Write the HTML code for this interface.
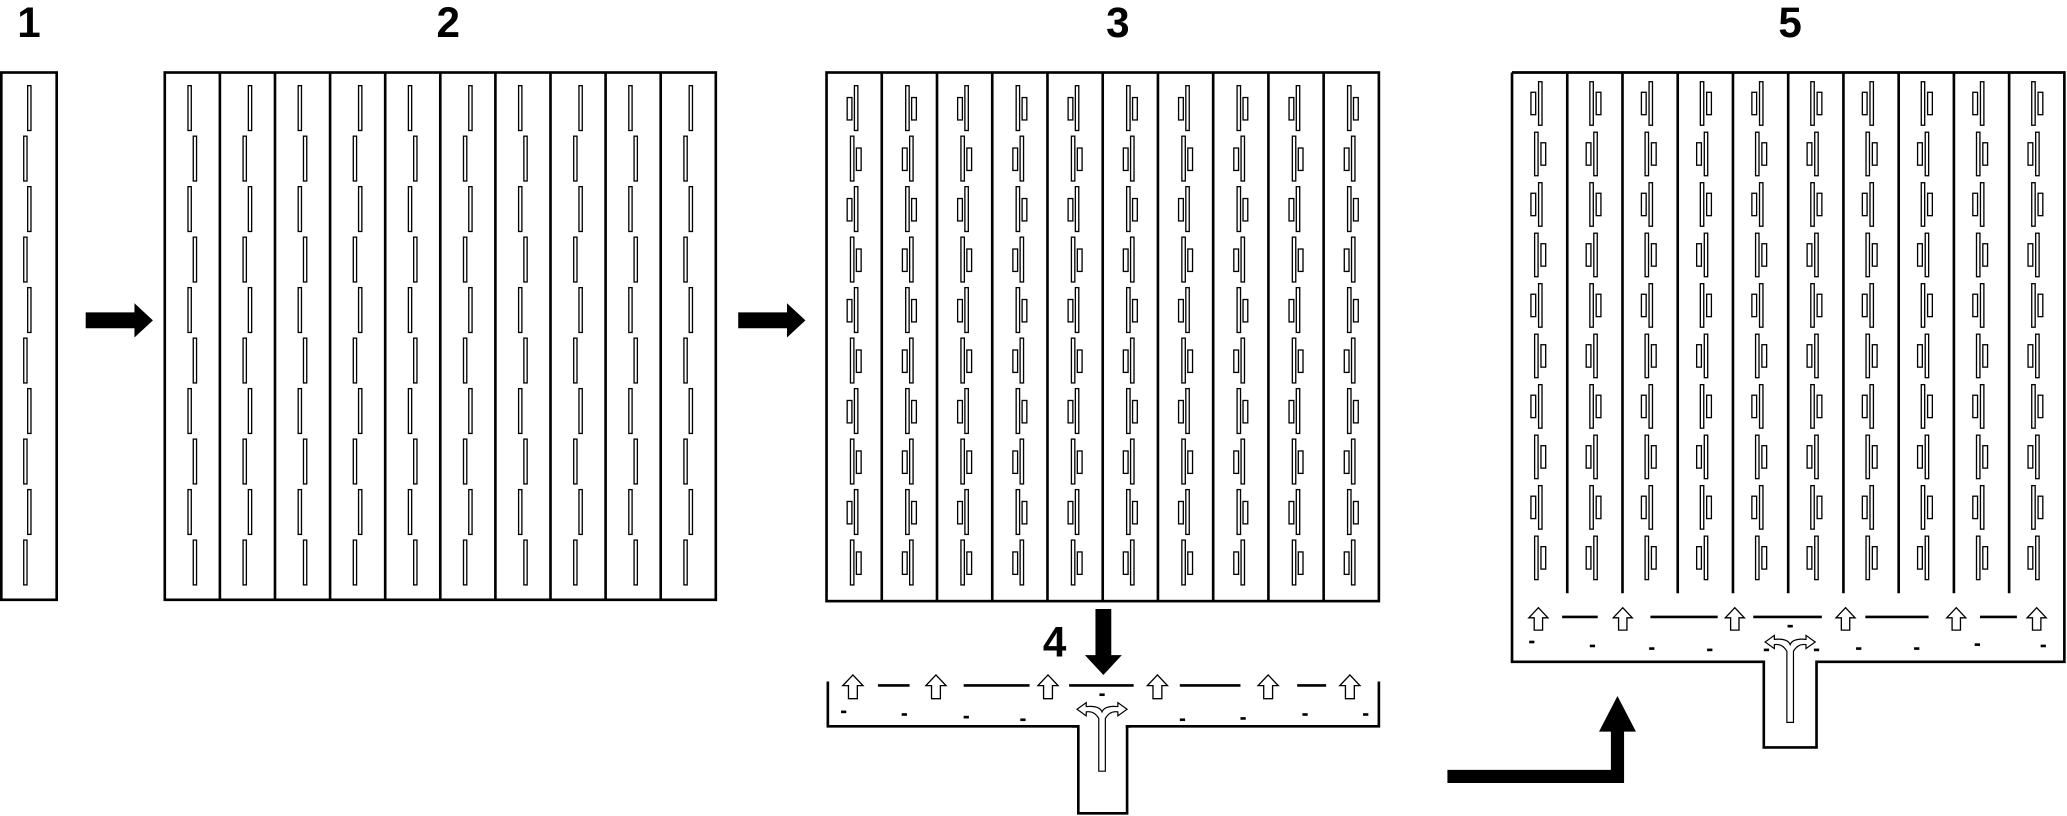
<!DOCTYPE html>
<html><head><meta charset="utf-8">
<style>
html,body{margin:0;padding:0;background:#fff;width:2067px;height:816px;overflow:hidden}
svg{display:block}
text{font-family:"Liberation Sans",Arial,sans-serif;font-weight:bold}
</style></head>
<body>
<svg id="s" width="2067" height="816" viewBox="0 0 1568 619" preserveAspectRatio="none" xmlns="http://www.w3.org/2000/svg">
<g fill="none" stroke="#000" stroke-width="2">
<rect x="1" y="55" width="42" height="400"/>
<rect x="125" y="55" width="418" height="400"/>
<rect x="627" y="55" width="419" height="401"/>
</g>
<g font-size="32" text-anchor="middle">
<text x="22" y="28">1</text>
<text x="340" y="28">2</text>
<text x="848" y="28">3</text>
<text x="1358" y="28">5</text>
<text x="800" y="498">4</text>
</g>
<polygon points="65,237 102,237 102,230 116,243 102,256 102,249 65,249" fill="#000"/>
<polygon points="560,237 597,237 597,230 611,243 597,256 597,249 560,249" fill="#000"/>
<polygon points="831,462 843,462 843,497 851,497 837,512 823,497 831,497" fill="#000"/>
<polygon points="1098,584 1222,584 1222,555 1213,555 1227,528 1241,555 1232,555 1232,594 1098,594" fill="#000"/>
<polyline points="628,517 628,551 818,551 818,617 855,617 855,551 1046,551 1046,517" fill="none" stroke="#000" stroke-width="2"/>
<polyline points="1147,55 1566,55 1566,502 1378,502 1378,567 1338,567 1338,502 1147,502 1147,55" fill="none" stroke="#000" stroke-width="2"/>
<g id="gen"></g>
</svg>
<script>
var g=document.getElementById('gen'),NS='http://www.w3.org/2000/svg';
function R(x,y,w,h,sw,f){var r=document.createElementNS(NS,'rect');r.setAttribute('x',x);r.setAttribute('y',y);r.setAttribute('width',w);r.setAttribute('height',h);r.setAttribute('fill',f||'#fff');r.setAttribute('stroke','#000');r.setAttribute('stroke-width',sw||1);g.appendChild(r);}
function L(x1,y1,x2,y2,w){var l=document.createElementNS(NS,'line');l.setAttribute('x1',x1);l.setAttribute('y1',y1);l.setAttribute('x2',x2);l.setAttribute('y2',y2);l.setAttribute('stroke','#000');l.setAttribute('stroke-width',w||2);g.appendChild(l);}
function P(d,f,sw){var p=document.createElementNS(NS,'path');p.setAttribute('d',d);p.setAttribute('fill',f||'#fff');p.setAttribute('stroke','#000');p.setAttribute('stroke-width',sw||1);g.appendChild(p);}
for(var i=0;i<10;i++){var off=(i%2==0)?1.5:-1.5;R(22+off-1.5-1,65+i*38.3,2.5,34);}
var cw2=41.8;
for(var c=0;c<10;c++){var x0=125+c*cw2;if(c>0)L(x0,55,x0,455,2);var cx=x0+cw2/2;
 for(var i=0;i<10;i++){var off=((i+c)%2==0)?-2:2;R(cx+off-1.3,65+i*38.3,2.5,34);}}
var cw3=41.9;
for(var c=0;c<10;c++){var x0=627+c*cw3;if(c>0)L(x0,55,x0,456,2);var cx=x0+cw3/2;
 for(var i=0;i<10;i++){var y=65+i*38.3;var s=((i+c)%2==0)?1:-1;
  R(cx+s*1.5-1.3,y,2.6,34);R(cx-s*3.5-1.8,y+9,3.6,17);}}
var cw5=41.9;
for(var c=0;c<10;c++){var x0=1147+c*cw5;if(c>0)L(x0,55,x0,450,2);var cx=x0+cw5/2-1;
 for(var i=0;i<10;i++){var y=62+i*38.3;var s=((i+c)%2==0)?1:-1;
  R(cx+s*1.5-1.3,y,2.6,33);R(cx-s*3.8-1.8,y+8,3.6,17);}}
function UA(x,y,h){var w=h*0.85;P('M'+x+','+y+' L'+(x+w/2)+','+(y+h*0.45)+' L'+(x+w*0.22)+','+(y+h*0.45)+' L'+(x+w*0.22)+','+(y+h)+' L'+(x-w*0.22)+','+(y+h)+' L'+(x-w*0.22)+','+(y+h*0.45)+' L'+(x-w/2)+','+(y+h*0.45)+'Z','#fff',1);}
[647,710,795,878,962,1024].forEach(function(x){UA(x,512,18);});
[[666,690],[731,781],[811,860],[895,941],[984,1006]].forEach(function(a){L(a[0],520,a[1],520,2);});
[[640,540],[686,542],[733,544],[776,546],[815,551],[856,551],[897,546],[943,545],[990,542],[1036,542],[836,527]].forEach(function(a){L(a[0]-2,a[1],a[0]+2,a[1],2);});
function T(cx,top,bot){P('M'+(cx-2.5)+','+bot+' L'+(cx-2.5)+','+(top+6)+' Q'+(cx-6)+','+(top)+' '+(cx-12)+','+(top+1)+' L'+(cx-12)+','+(top+4)+' L'+(cx-19)+','+(top-1)+' L'+(cx-12)+','+(top-6)+' L'+(cx-12)+','+(top-3)+' Q'+(cx-2)+','+(top-4)+' '+cx+','+(top+1)+' Q'+(cx+2)+','+(top-4)+' '+(cx+12)+','+(top-3)+' L'+(cx+12)+','+(top-6)+' L'+(cx+19)+','+(top-1)+' L'+(cx+12)+','+(top+4)+' L'+(cx+12)+','+(top+1)+' Q'+(cx+6)+','+top+' '+(cx+2.5)+','+(top+6)+' L'+(cx+2.5)+','+bot+' Z','#fff',0.9);}
T(836,539,585);
[1167,1231,1316,1400,1484,1545].forEach(function(x){UA(x,461,17);});
[[1185,1212],[1252,1303],[1330,1382],[1415,1463],[1502,1530]].forEach(function(a){L(a[0],468,a[1],468,2);});
[[1162,487],[1208,490],[1253,492],[1297,493],[1340,493],[1378,493],[1410,492],[1454,492],[1500,489],[1550,490],[1358,475]].forEach(function(a){L(a[0]-2,a[1],a[0]+2,a[1],2);});
T(1358,488,548);
</script>
</body></html>
